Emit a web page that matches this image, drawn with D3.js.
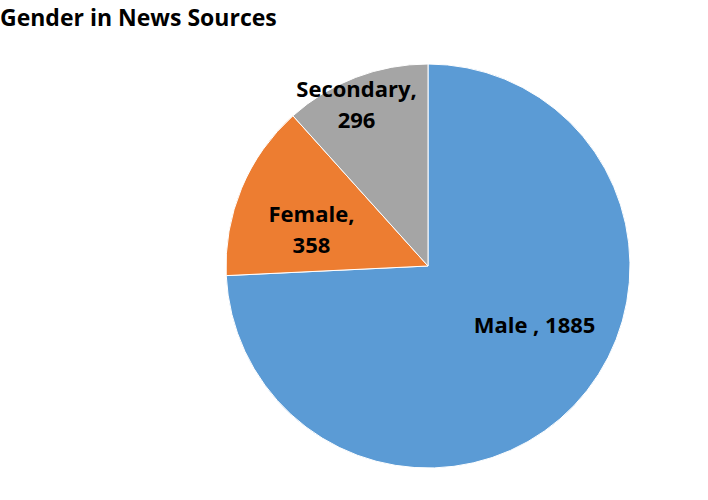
<!DOCTYPE html>
<html><head><meta charset="utf-8">
<script src="https://cdn.jsdelivr.net/npm/d3@7"></script>
<style>body{margin:0;background:#fff}svg{display:block}</style>
</head><body>
<svg id="c" width="708" height="500"></svg>
<script>
const categories = ["Male", "Female", "Secondary"];
const values = [1885, 358, 296];
const labelLines = [["Male , 1885"], ["Female,", "358"], ["Secondary,", "296"]];
const colors = ["#5B9BD5", "#ED7D31", "#A5A5A5"];

const svg = d3.select("#c");
const font = "'Open Sans', sans-serif";
svg.append("text").attr("x", 0).attr("y", 26).attr("font-family", font)
  .attr("font-weight", "bold").attr("font-size", 23).attr("fill", "#000")
  .text("Gender in News Sources");

const cx = 428, cy = 266, r = 202;
const g = svg.append("g").attr("transform", `translate(${cx},${cy})`);
const pie = d3.pie().sort(null).value(d => d)(values);
const arc = d3.arc().innerRadius(0).outerRadius(r);
g.selectAll("path").data(pie).join("path")
  .attr("d", arc).attr("fill", (d, i) => colors[i])
  .attr("stroke", "#fff").attr("stroke-width", 1);

// label placement: [radius fraction, angle shift (deg) from slice mid]
const labelPos = [[0.603, -14.65], [0.604, -5.48], [0.874, -2.9]];
pie.forEach((d, i) => {
  const mid = (d.startAngle + d.endAngle) / 2 + labelPos[i][1] * Math.PI / 180;
  const rr = r * labelPos[i][0];
  const x = rr * Math.sin(mid), y = -rr * Math.cos(mid);
  const lines = labelLines[i];
  const lh = 31;
  const t = g.append("text").attr("font-family", font).attr("font-weight", "bold")
    .attr("font-size", 22).attr("fill", "#000").attr("text-anchor", "middle");
  lines.forEach((l, k) => {
    t.append("tspan").attr("x", x)
      .attr("y", y + (k - (lines.length - 1) / 2) * lh).attr("dy", "0.36em").text(l);
  });
});
</script>
</body></html>
